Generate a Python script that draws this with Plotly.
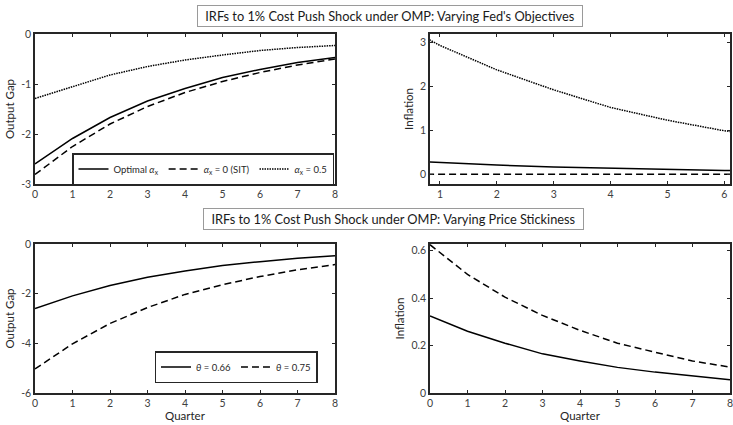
import plotly.graph_objects as go

W, H = 733, 425

quarters = [0, 1, 2, 3, 4, 5, 6, 7, 8]

# Panel 1: output gap, varying Fed objectives
og_optimal = [-2.60, -2.09, -1.67, -1.34, -1.09, -0.87, -0.71, -0.57, -0.47]
og_sit = [-2.81, -2.25, -1.80, -1.45, -1.17, -0.95, -0.77, -0.62, -0.50]
og_half = [-1.29, -1.05, -0.82, -0.65, -0.52, -0.42, -0.33, -0.27, -0.23]

# Panel 2: inflation, varying Fed objectives
inf_optimal = [0.325, 0.26, 0.21, 0.165, 0.135, 0.108, 0.088, 0.071, 0.056]
inf_sit = [0, 0, 0, 0, 0, 0, 0, 0, 0]
inf_half = [3.62, 2.93, 2.375, 1.92, 1.52, 1.23, 0.99, 0.81, 0.66]

# Panel 3: output gap, varying price stickiness
og_066 = [-2.60, -2.09, -1.67, -1.34, -1.09, -0.87, -0.71, -0.57, -0.47]
og_075 = [-5.03, -4.02, -3.20, -2.56, -2.03, -1.64, -1.31, -1.04, -0.83]

# Panel 4: inflation, varying price stickiness
inf_066 = [0.325, 0.26, 0.21, 0.165, 0.135, 0.108, 0.088, 0.071, 0.056]
inf_075 = [0.625, 0.50, 0.404, 0.327, 0.264, 0.21, 0.172, 0.135, 0.109]

names_top = ["Optimal <i>α</i><sub>x</sub>", "<i>α</i><sub>x</sub> = 0 (SIT)", "<i>α</i><sub>x</sub> = 0.5"]
names_bot = ["<i>θ</i> = 0.66", "<i>θ</i> = 0.75"]

title_top = "IRFs to 1% Cost Push Shock under OMP: Varying Fed's Objectives"
title_bot = "IRFs to 1% Cost Push Shock under OMP: Varying Price Stickiness"

yt1 = [0, -1, -2, -3]; yt1_lab = ["0", "-1", "-2", "-3"]
yt2 = [0, 1, 2, 3]; yt2_lab = ["0", "1", "2", "3"]
yt3 = [0, -2, -4, -6]; yt3_lab = ["0", "-2", "-4", "-6"]
yt4 = [0, 0.2, 0.4, 0.6]; yt4_lab = ["0", "0.2", "0.4", "0.6"]
xt_a = [0, 1, 2, 3, 4, 5, 6, 7, 8]
xt_b = [1, 2, 3, 4, 5, 6]

FONT = "Lato"
AX = "#262626"
LW = 1.5
SOLID = "solid"
DASH = "7px,4px"
DOT = "1.5px,1px"

fig = go.Figure()

def line(x, y, xa, ya, dash, name=None, legend=None, show=False):
    fig.add_trace(go.Scatter(
        x=x, y=y, xaxis=xa, yaxis=ya, mode="lines",
        line=dict(color="black", width=LW, dash=dash),
        name=name, showlegend=show, legend=legend))

line(quarters, og_optimal, "x", "y", SOLID, names_top[0], "legend", True)
line(quarters, og_sit, "x", "y", DASH, names_top[1], "legend", True)
line(quarters, og_half, "x", "y", DOT, names_top[2], "legend", True)

line(quarters, inf_optimal, "x2", "y2", SOLID)
line(quarters, inf_sit, "x2", "y2", DASH)
line(quarters, inf_half, "x2", "y2", DOT)

line(quarters, og_066, "x3", "y3", SOLID, names_bot[0], "legend2", True)
line(quarters, og_075, "x3", "y3", DASH, names_bot[1], "legend2", True)

line(quarters, inf_066, "x4", "y4", SOLID)
line(quarters, inf_075, "x4", "y4", DASH)

def px_x(a, b):
    return [a / W, b / W]

def px_y(top, bot):
    return [1 - bot / H, 1 - top / H]

tickfont = dict(family=FONT, size=10.5, color="#404040")
common = dict(showline=True, linecolor=AX, linewidth=1.5, mirror="ticks",
              ticks="inside", ticklen=3, tickwidth=1, tickcolor=AX,
              showgrid=False, zeroline=False, tickfont=tickfont, automargin=False,
              ticklabeloverflow="allow")
ytitle = dict(font=dict(family=FONT, size=11.5, color=AX), standoff=4)
xtitle = dict(font=dict(family=FONT, size=11.5, color=AX), standoff=4)

fig.update_layout(
    width=W, height=H,
    margin=dict(l=0, r=0, t=0, b=0, autoexpand=False),
    paper_bgcolor="white", plot_bgcolor="white",
    font=dict(family=FONT, color=AX),
    xaxis=dict(domain=px_x(35, 335), range=[0, 8], tickvals=xt_a, anchor="y", **common),
    yaxis=dict(domain=px_y(34, 184), range=[-3, 0], tickvals=yt1, ticktext=yt1_lab,
               anchor="x", title=dict(text="Output Gap", **ytitle), **common),
    xaxis2=dict(domain=px_x(430, 730), range=[0.825, 6.1], tickvals=xt_b, anchor="y2", **common),
    yaxis2=dict(domain=px_y(34, 184), range=[-0.22, 3.19], tickvals=yt2, ticktext=yt2_lab,
                anchor="x2", title=dict(text="Inflation", **ytitle), **common),
    xaxis3=dict(domain=px_x(35, 335), range=[0, 8], tickvals=xt_a, anchor="y3",
                title=dict(text="Quarter", **xtitle), **common),
    yaxis3=dict(domain=px_y(244, 393), range=[-6, 0], tickvals=yt3, ticktext=yt3_lab,
                anchor="x3", title=dict(text="Output Gap", **ytitle), **common),
    xaxis4=dict(domain=px_x(430, 730), range=[0, 8], tickvals=xt_a, anchor="y4",
                title=dict(text="Quarter", **xtitle), **common),
    yaxis4=dict(domain=px_y(244, 393), range=[0, 0.628], tickvals=yt4, ticktext=yt4_lab,
                anchor="x4", title=dict(text="Inflation", **ytitle), **common),
    legend=dict(x=334 / W, y=1 - 153 / H, xanchor="right", yanchor="top",
                orientation="h", bordercolor=AX, borderwidth=1.5, bgcolor="white",
                font=dict(family=FONT, size=9.5, color=AX), itemwidth=30,
                tracegroupgap=0),
    legend2=dict(x=236 / W, y=1 - 351 / H, xanchor="center", yanchor="top",
                 orientation="h", bordercolor=AX, borderwidth=1.5, bgcolor="white",
                 font=dict(family=FONT, size=9.5, color=AX), itemwidth=30,
                 tracegroupgap=0),
)

def title_box(text, yc, xc, w):
    fig.add_annotation(text=text, xref="paper", yref="paper", x=xc / W, y=1 - yc / H,
                       xanchor="center", yanchor="middle", showarrow=False,
                       font=dict(family=FONT, size=12.8, color="#1a1a1a"),
                       bordercolor="#9a9a9a", borderwidth=1, borderpad=2,
                       bgcolor="white", width=w, height=16)

title_box(title_top, 16.5, 390, 380)
title_box(title_bot, 218.5, 393.5, 375)

fig.write_html("out.html", config={"displayModeBar": False},
               post_script="document.body.style.margin='0';")
